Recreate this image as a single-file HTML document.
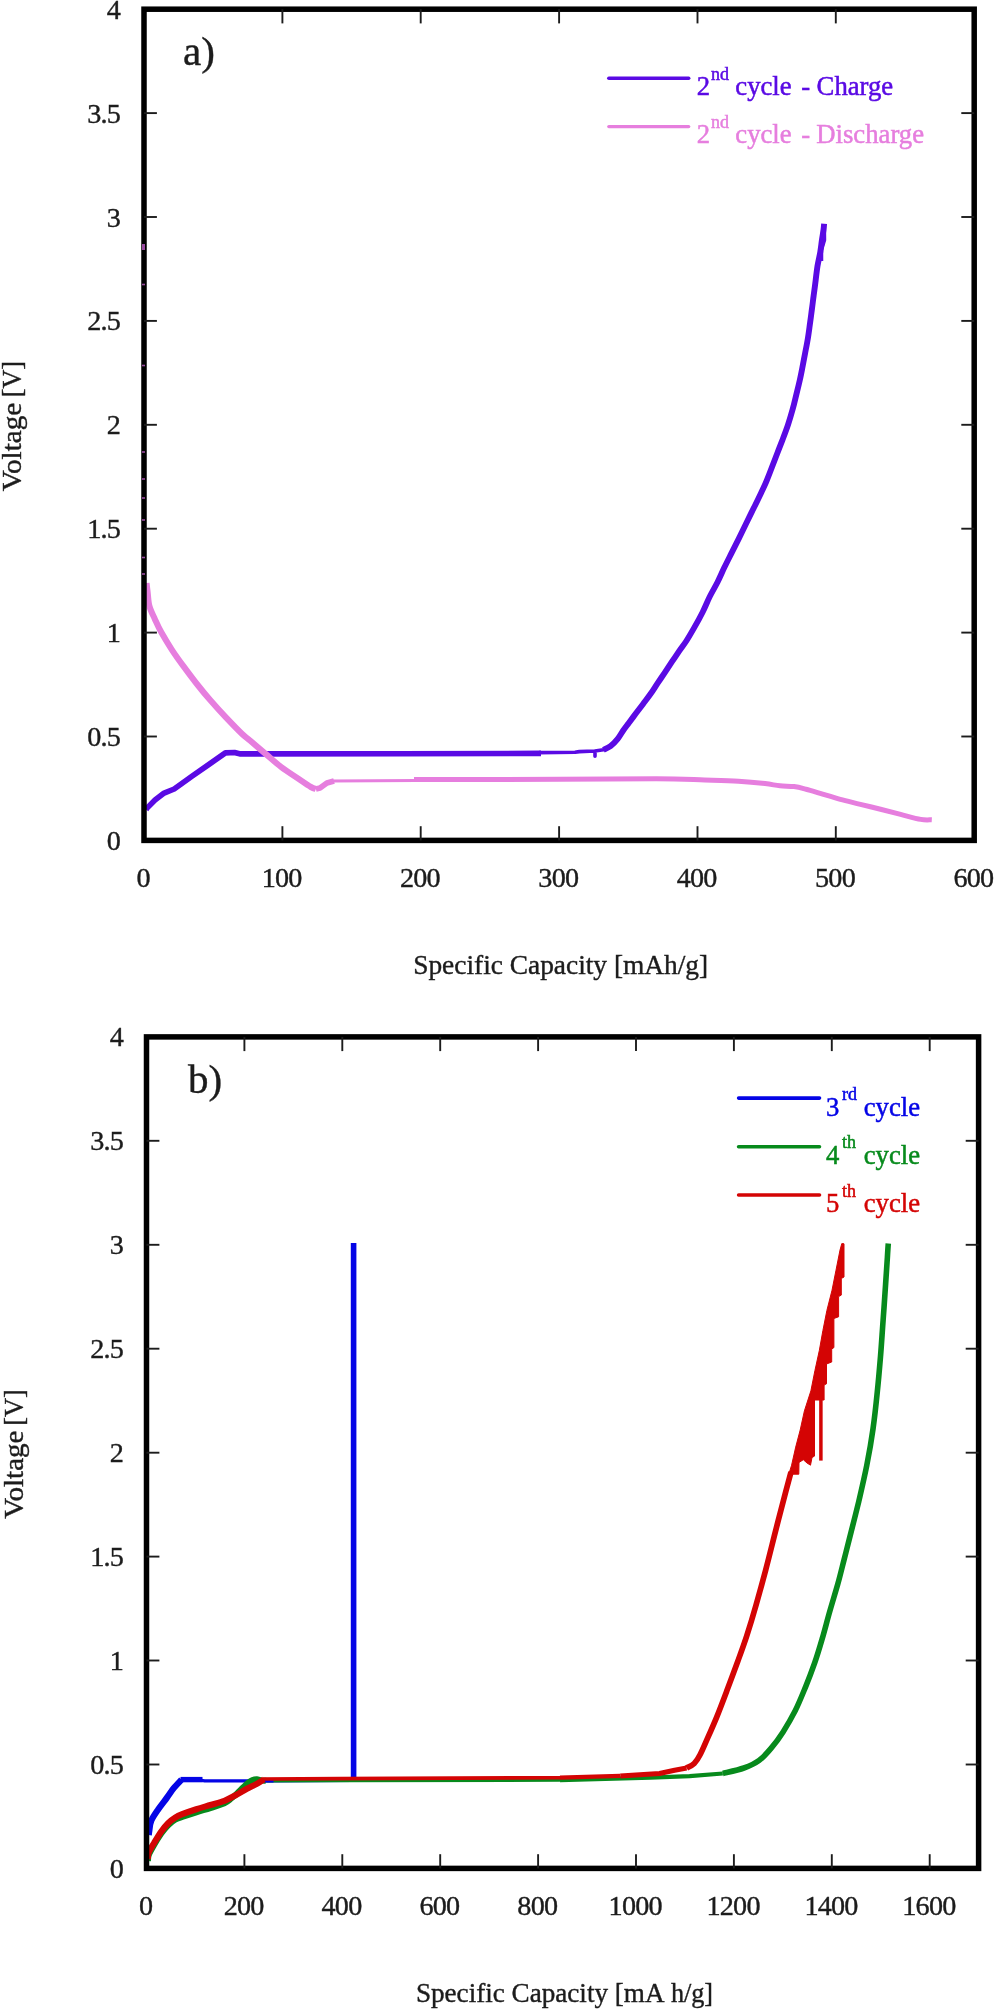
<!DOCTYPE html>
<html><head><meta charset="utf-8"><title>Voltage vs Specific Capacity</title>
<style>html,body{margin:0;padding:0;background:#fff}svg{display:block;filter:blur(0.55px)}text{font-family:"Liberation Serif", serif;}.w{stroke-width:0.3px}</style></head>
<body>
<svg width="995" height="2011" viewBox="0 0 995 2011">
<rect width="995" height="2011" fill="#fff"/>
<polyline points="146.0,809.5 147.0,808.1 155.0,800.0 164.1,793.1 174.2,789.0 192.3,776.0 208.3,764.9 225.4,752.9 234.5,752.5 240.5,753.9 400.0,753.7 541.0,753.4" fill="none" stroke="#5a0ae4" stroke-width="5.6" stroke-linejoin="round"/>
<polyline points="539.0,752.6 575.0,752.3 579.3,751.6 595.0,751.0 595.0,756.2 595.0,751.0 603.4,749.8 609.0,747.8" fill="none" stroke="#5a0ae4" stroke-width="3.6" stroke-linejoin="round"/>
<path d="M603.4,749.8 C604.6,749.2 608.1,748.0 610.5,746.2 C612.9,744.4 615.6,741.5 617.7,738.9 C619.8,736.3 621.4,733.1 623.2,730.5 C625.0,727.9 626.5,726.0 628.6,723.2 C630.7,720.4 633.4,716.8 635.8,713.6 C638.2,710.4 640.7,707.1 643.1,703.9 C645.5,700.7 647.9,697.7 650.3,694.3 C652.7,690.9 655.1,687.0 657.5,683.4 C659.9,679.8 662.4,676.2 664.8,672.6 C667.2,669.0 669.6,665.3 672.0,661.7 C674.4,658.1 677.0,654.3 679.3,650.9 C681.6,647.5 683.5,645.3 686.0,641.5 C688.5,637.7 691.3,632.8 694.1,627.9 C696.9,623.0 700.0,617.4 702.6,612.2 C705.2,607.0 707.3,601.5 709.8,596.5 C712.3,591.5 715.2,586.8 717.6,582.0 C720.0,577.2 722.0,572.4 724.3,567.6 C726.6,562.8 729.1,557.9 731.5,553.1 C733.9,548.3 736.4,543.4 738.8,538.6 C741.2,533.8 743.8,528.5 745.9,524.1 C748.0,519.7 750.2,515.2 751.7,512.1 C753.2,509.0 753.3,508.9 754.9,505.7 C756.5,502.5 759.2,496.9 761.2,492.7 C763.2,488.5 764.9,485.0 766.7,480.6 C768.5,476.2 770.5,471.0 772.2,466.5 C774.0,462.0 775.5,457.9 777.2,453.5 C778.9,449.1 780.7,444.6 782.3,440.4 C783.9,436.2 785.4,432.3 786.8,428.3 C788.2,424.3 789.4,420.3 790.6,416.3 C791.8,412.3 793.0,408.2 794.0,404.2 C795.0,400.2 795.9,396.2 796.9,392.2 C797.9,388.2 798.9,384.1 799.8,380.1 C800.7,376.2 801.3,373.1 802.2,368.5 C803.1,363.9 804.2,357.8 805.2,352.7 C806.2,347.6 807.2,342.7 808.0,337.6 C808.8,332.5 809.5,326.9 810.2,322.0 C810.9,317.1 811.4,312.8 812.0,308.5 C812.6,304.2 813.0,300.4 813.6,296.0 C814.2,291.6 814.8,287.4 815.4,282.4 C816.0,277.4 816.7,271.1 817.5,266.0 C818.3,260.9 819.6,256.2 820.3,252.0 C821.0,247.8 821.3,244.7 821.8,241.0 C822.3,237.3 823.1,232.9 823.5,230.0 C823.9,227.1 824.0,224.8 824.1,223.8" fill="none" stroke="#5a0ae4" stroke-width="5.9" stroke-linejoin="round"/>
<polyline points="824.3,224.0 824.5,240.0 821.5,250.0 821.5,261.0" fill="none" stroke="#5a0ae4" stroke-width="3.5" stroke-linejoin="round"/>
<path d="M146.5,583.0 C146.7,584.5 147.1,588.2 147.6,592.1 C148.1,596.0 148.2,601.6 149.4,606.1 C150.6,610.6 152.9,614.8 154.9,619.2 C156.9,623.6 158.5,627.3 161.3,632.3 C164.1,637.3 167.9,643.6 171.6,649.3 C175.3,655.0 179.4,660.7 183.6,666.4 C187.8,672.1 192.0,677.8 196.5,683.5 C201.0,689.2 205.8,695.1 210.6,700.6 C215.4,706.1 220.0,711.2 225.2,716.7 C230.4,722.2 237.7,729.8 241.9,733.8 C246.1,737.8 246.4,737.4 250.3,740.8 C254.2,744.1 260.5,749.5 265.6,753.9 C270.7,758.2 275.5,762.7 281.0,766.9 C286.5,771.1 293.8,775.6 298.8,779.0 C303.8,782.4 308.0,785.3 310.9,787.0 C313.8,788.7 315.1,788.7 315.9,789.0" fill="none" stroke="#e67ede" stroke-width="6.1" stroke-linejoin="round"/>
<polyline points="315.9,789.0 320.0,788.0 326.9,783.0 334.0,781.0" fill="none" stroke="#e67ede" stroke-width="5.8" stroke-linejoin="round"/>
<polyline points="332.0,780.9 416.0,780.6" fill="none" stroke="#e67ede" stroke-width="3" stroke-linejoin="round"/>
<path d="M414.0,779.6 C438.3,779.5 519.6,779.4 560.0,779.3 C600.4,779.2 632.4,778.7 656.5,778.8 C680.6,778.9 691.0,779.6 704.7,780.0 C718.4,780.4 728.5,780.6 738.5,781.2 C748.5,781.8 758.1,782.8 765.0,783.6 C771.9,784.4 775.2,785.3 780.0,785.8 C784.8,786.3 789.6,786.0 794.0,786.6 C798.4,787.2 801.7,788.1 806.1,789.2 C810.5,790.3 814.5,791.6 820.2,793.3 C825.9,795.0 833.6,797.5 840.3,799.3 C847.0,801.1 853.7,802.6 860.4,804.3 C867.1,806.0 873.8,807.6 880.5,809.3 C887.2,811.0 893.9,812.7 900.6,814.4 C907.3,816.1 915.5,818.5 920.7,819.4 C925.9,820.3 929.9,819.7 931.8,819.8" fill="none" stroke="#e67ede" stroke-width="5" stroke-linejoin="round"/>
<rect x="144.0" y="9.2" width="830.2" height="831.2" fill="none" stroke="#000" stroke-width="5.5"/>
<g stroke="#1c1c1c" stroke-width="1.9"><line x1="282.4" y1="840.4" x2="282.4" y2="826.2"/><line x1="282.4" y1="9.2" x2="282.4" y2="23.4"/><line x1="420.7" y1="840.4" x2="420.7" y2="826.2"/><line x1="420.7" y1="9.2" x2="420.7" y2="23.4"/><line x1="559.1" y1="840.4" x2="559.1" y2="826.2"/><line x1="559.1" y1="9.2" x2="559.1" y2="23.4"/><line x1="697.5" y1="840.4" x2="697.5" y2="826.2"/><line x1="697.5" y1="9.2" x2="697.5" y2="23.4"/><line x1="835.8" y1="840.4" x2="835.8" y2="826.2"/><line x1="835.8" y1="9.2" x2="835.8" y2="23.4"/><line x1="144.0" y1="736.5" x2="156.9" y2="736.5"/><line x1="974.2" y1="736.5" x2="961.3" y2="736.5"/><line x1="144.0" y1="632.6" x2="156.9" y2="632.6"/><line x1="974.2" y1="632.6" x2="961.3" y2="632.6"/><line x1="144.0" y1="528.7" x2="156.9" y2="528.7"/><line x1="974.2" y1="528.7" x2="961.3" y2="528.7"/><line x1="144.0" y1="424.8" x2="156.9" y2="424.8"/><line x1="974.2" y1="424.8" x2="961.3" y2="424.8"/><line x1="144.0" y1="320.9" x2="156.9" y2="320.9"/><line x1="974.2" y1="320.9" x2="961.3" y2="320.9"/><line x1="144.0" y1="217.0" x2="156.9" y2="217.0"/><line x1="974.2" y1="217.0" x2="961.3" y2="217.0"/><line x1="144.0" y1="113.1" x2="156.9" y2="113.1"/><line x1="974.2" y1="113.1" x2="961.3" y2="113.1"/></g>
<g font-size="28.2" letter-spacing="-0.8" fill="#1c1c1c" stroke="#1c1c1c" stroke-width="0.4"><text x="120.1" y="849.9" text-anchor="end">0</text><text x="120.1" y="746.0" text-anchor="end">0.5</text><text x="120.1" y="642.1" text-anchor="end">1</text><text x="120.1" y="538.2" text-anchor="end">1.5</text><text x="120.1" y="434.3" text-anchor="end">2</text><text x="120.1" y="330.4" text-anchor="end">2.5</text><text x="120.1" y="226.5" text-anchor="end">3</text><text x="120.1" y="122.6" text-anchor="end">3.5</text><text x="120.1" y="18.7" text-anchor="end">4</text><text x="143.2" y="886.9" text-anchor="middle">0</text><text x="281.6" y="886.9" text-anchor="middle">100</text><text x="419.9" y="886.9" text-anchor="middle">200</text><text x="558.3" y="886.9" text-anchor="middle">300</text><text x="696.7" y="886.9" text-anchor="middle">400</text><text x="835.0" y="886.9" text-anchor="middle">500</text><text x="973.4" y="886.9" text-anchor="middle">600</text></g>
<rect x="142" y="244.0" width="3" height="6" fill="#9a4aa0"/>
<rect x="142" y="283.7" width="3" height="1.6" fill="#9a4aa0"/>
<rect x="142" y="364.7" width="3" height="1.6" fill="#9a4aa0"/>
<rect x="142" y="451.2" width="3" height="1.6" fill="#9a4aa0"/>
<rect x="142" y="478.2" width="3" height="1.6" fill="#9a4aa0"/>
<rect x="142" y="497.2" width="3" height="1.6" fill="#9a4aa0"/>
<rect x="142" y="519.2" width="3" height="1.6" fill="#9a4aa0"/>
<rect x="142" y="556.7" width="3" height="1.6" fill="#9a4aa0"/>
<rect x="142" y="573.2" width="3" height="1.6" fill="#9a4aa0"/>
<text id="xt_a" x="413.2" y="973.9" font-size="27.6" fill="#1c1c1c" stroke="#1c1c1c" stroke-width="0.4" textLength="295" lengthAdjust="spacingAndGlyphs">Specific Capacity [mAh/g]</text>
<text id="yt_a" transform="translate(20.6,491.2) rotate(-90)" font-size="27.6" fill="#1c1c1c" stroke="#1c1c1c" stroke-width="0.4"><tspan textLength="88.4" lengthAdjust="spacingAndGlyphs">Voltage</tspan><tspan x="93.9" textLength="36.4" lengthAdjust="spacingAndGlyphs">[V]</tspan></text>
<text id="la" x="183" y="65" font-size="41" fill="#1c1c1c" stroke="#1c1c1c" stroke-width="0.4">a)</text>
<line x1="608.8" y1="78.2" x2="688.7" y2="78.2" stroke="#5a0ae4" stroke-width="3.5" stroke-linecap="round"/>
<line x1="608.8" y1="126.6" x2="688.7" y2="126.6" stroke="#e67ede" stroke-width="3.3" stroke-linecap="round"/>
<text id="lg_a1" x="696.7" y="95.3" font-size="26.7" fill="#5a0ae4" stroke="#5a0ae4" stroke-width="0.5">2<tspan font-size="18" x="711" dy="-15.4">nd</tspan><tspan x="735.3" dy="15.4">cycle</tspan><tspan x="801.2">-</tspan><tspan x="816.6">Charge</tspan></text>
<text id="lg_a2" x="696.7" y="143.4" font-size="26.7" fill="#e67ede" stroke="#e67ede" stroke-width="0.5">2<tspan font-size="18" x="711" dy="-15.4">nd</tspan><tspan x="735.3" dy="15.4">cycle</tspan><tspan x="801.2">-</tspan><tspan x="816.3">Discharge</tspan></text>
<path d="M148.7,1835.0 C148.8,1834.2 148.9,1832.8 149.3,1830.4 C149.7,1828.0 149.8,1824.0 151.3,1820.5 C152.8,1817.0 155.7,1813.0 158.3,1809.2 C160.9,1805.5 164.1,1801.5 166.7,1798.0 C169.3,1794.5 171.3,1791.1 173.8,1788.1 C176.3,1785.0 180.2,1781.1 181.5,1779.7" fill="none" stroke="#0404e6" stroke-width="6.3" stroke-linejoin="round"/>
<polyline points="180.5,1779.6 202.5,1779.6" fill="none" stroke="#0404e6" stroke-width="5.4" stroke-linejoin="round"/>
<polyline points="201.0,1780.2 204.7,1780.9 272.7,1780.9 353.6,1780.5" fill="none" stroke="#0404e6" stroke-width="3.2" stroke-linejoin="round"/>
<line x1="353.6" y1="1243" x2="353.6" y2="1781" stroke="#0404e6" stroke-width="5.6"/>
<path d="M148.0,1861.0 C148.1,1860.0 147.8,1857.7 148.8,1855.0 C149.8,1852.3 152.1,1848.5 154.1,1845.0 C156.1,1841.5 158.8,1837.1 161.1,1833.8 C163.4,1830.5 165.8,1827.6 168.1,1825.3 C170.4,1823.0 172.8,1821.1 175.2,1819.7 C177.5,1818.3 178.7,1818.2 182.2,1817.0 C185.7,1815.8 191.6,1813.8 196.3,1812.3 C201.0,1810.8 205.7,1809.6 210.4,1808.1 C215.1,1806.6 221.0,1804.8 224.4,1803.2 C227.8,1801.6 228.9,1800.3 231.0,1798.7 C233.1,1797.1 235.2,1795.2 237.1,1793.4 C239.0,1791.6 240.8,1789.6 242.7,1787.8 C244.6,1786.0 246.7,1783.9 248.3,1782.6 C250.0,1781.3 251.2,1780.6 252.6,1780.0 C254.0,1779.4 255.4,1779.1 256.8,1779.2 C258.2,1779.3 259.5,1780.1 261.0,1780.4 C262.5,1780.7 265.2,1780.7 266.0,1780.8" fill="none" stroke="#078a1c" stroke-width="6" stroke-linejoin="round"/>
<polyline points="265.0,1780.8 340.0,1780.5 560.0,1780.1" fill="none" stroke="#078a1c" stroke-width="3.4" stroke-linejoin="round"/>
<polyline points="560.0,1780.1 650.4,1777.7 689.6,1776.2 722.8,1773.5" fill="none" stroke="#078a1c" stroke-width="4.2" stroke-linejoin="round"/>
<path d="M722.8,1773.5 C726.3,1772.6 737.9,1770.2 743.9,1768.0 C749.9,1765.8 754.5,1763.8 759.0,1760.5 C763.5,1757.2 767.0,1753.2 771.0,1748.4 C775.0,1743.6 779.1,1738.2 783.1,1731.9 C787.1,1725.6 791.4,1718.3 795.2,1710.8 C799.0,1703.2 802.4,1694.6 805.7,1686.6 C809.0,1678.5 812.0,1670.5 814.8,1662.5 C817.6,1654.5 819.8,1646.9 822.3,1638.4 C824.8,1629.9 827.2,1620.3 829.8,1611.3 C832.4,1602.2 835.4,1592.6 837.8,1584.1 C840.2,1575.5 842.0,1567.8 844.0,1560.0 C846.0,1552.2 847.2,1547.3 849.7,1537.5 C852.2,1527.7 855.9,1513.3 858.8,1501.3 C861.6,1489.2 864.4,1477.2 866.8,1465.2 C869.2,1453.2 871.3,1441.1 873.0,1429.0 C874.7,1416.9 876.0,1404.9 877.2,1392.8 C878.5,1380.7 879.5,1368.7 880.5,1356.6 C881.5,1344.5 882.2,1332.5 883.1,1320.4 C884.0,1308.4 884.9,1294.8 885.6,1284.3 C886.3,1273.8 887.0,1263.9 887.4,1257.1 C887.8,1250.3 888.1,1245.8 888.3,1243.6" fill="none" stroke="#078a1c" stroke-width="5.6" stroke-linejoin="round"/>
<polyline points="262.0,1781.0 273.5,1781.0" fill="none" stroke="#0404e6" stroke-width="3.0" stroke-linejoin="round"/>
<path d="M147.8,1859.0 C147.9,1858.0 147.6,1855.6 148.6,1852.9 C149.6,1850.2 152.0,1846.5 154.1,1843.0 C156.2,1839.5 158.8,1835.1 161.1,1831.8 C163.4,1828.5 165.8,1825.6 168.1,1823.3 C170.4,1821.0 172.8,1819.2 175.2,1817.7 C177.5,1816.2 178.7,1815.6 182.2,1814.2 C185.7,1812.8 191.6,1810.7 196.3,1809.2 C201.0,1807.7 205.7,1806.4 210.4,1805.0 C215.1,1803.6 220.2,1802.4 224.4,1800.8 C228.6,1799.2 231.9,1797.2 235.7,1795.2 C239.4,1793.2 243.4,1790.7 246.9,1788.8 C250.4,1786.9 254.0,1785.5 256.8,1783.9 C259.6,1782.3 262.6,1780.2 263.8,1779.4" fill="none" stroke="#d40404" stroke-width="6.2" stroke-linejoin="round"/>
<polyline points="262.5,1779.0 340.0,1778.6 560.0,1777.7" fill="none" stroke="#d40404" stroke-width="3.6" stroke-linejoin="round"/>
<polyline points="560.0,1777.7 620.3,1775.9" fill="none" stroke="#d40404" stroke-width="4.3" stroke-linejoin="round"/>
<polyline points="620.3,1775.9 659.5,1773.5 674.6,1770.2 686.6,1768.0" fill="none" stroke="#d40404" stroke-width="5.0" stroke-linejoin="round"/>
<path d="M686.6,1768.0 C687.9,1767.2 691.9,1765.8 694.2,1763.5 C696.5,1761.2 698.0,1758.8 700.2,1754.5 C702.5,1750.2 704.9,1744.2 707.7,1737.9 C710.5,1731.6 713.5,1724.8 716.8,1716.8 C720.1,1708.8 723.8,1698.9 727.3,1689.6 C730.8,1680.3 734.6,1670.0 737.9,1661.0 C741.2,1652.0 743.9,1644.7 746.9,1635.4 C749.9,1626.1 752.9,1616.1 756.0,1605.2 C759.1,1594.3 762.3,1582.7 765.7,1569.9 C769.1,1557.1 772.9,1541.4 776.2,1528.5 C779.5,1515.6 783.1,1501.7 785.6,1492.3 C788.1,1482.9 790.1,1475.4 791.0,1472.0" fill="none" stroke="#d40404" stroke-width="5.7" stroke-linejoin="round"/>
<polygon points="788.8,1474.2 791.6,1465.2 795.7,1447.1 800.2,1430.0 804.4,1410.9 810.9,1390.8 814.9,1370.7 819.3,1350.6 822.9,1330.5 826.9,1310.4 832.0,1290.3 836.0,1270.2 840.0,1250.1 841.8,1243.6 844.0,1243.8 844.0,1277.0 841.3,1278.5 841.3,1295.1 838.6,1296.6 838.6,1316.8 833.9,1318.5 833.9,1347.6 831.7,1349.0 831.7,1362.0 826.5,1364.0 826.5,1383.8 824.1,1385.0 824.1,1400.0 814.5,1400.0 814.5,1456.1 812.0,1457.5 810.5,1465.2 807.0,1463.0 803.3,1459.7 799.0,1462.5 798.8,1474.2 794.0,1474.2" fill="#d40404" stroke="#d40404" stroke-width="1" stroke-linejoin="round"/>
<line x1="820.9" y1="1385" x2="820.9" y2="1460.6" stroke="#d40404" stroke-width="3.5"/>
<rect x="146.5" y="1036.9" width="832.1" height="831.5" fill="none" stroke="#000" stroke-width="5.5"/>
<g stroke="#1c1c1c" stroke-width="1.9"><line x1="244.4" y1="1868.4" x2="244.4" y2="1854.2"/><line x1="244.4" y1="1036.9" x2="244.4" y2="1051.1"/><line x1="342.3" y1="1868.4" x2="342.3" y2="1854.2"/><line x1="342.3" y1="1036.9" x2="342.3" y2="1051.1"/><line x1="440.2" y1="1868.4" x2="440.2" y2="1854.2"/><line x1="440.2" y1="1036.9" x2="440.2" y2="1051.1"/><line x1="538.1" y1="1868.4" x2="538.1" y2="1854.2"/><line x1="538.1" y1="1036.9" x2="538.1" y2="1051.1"/><line x1="636.0" y1="1868.4" x2="636.0" y2="1854.2"/><line x1="636.0" y1="1036.9" x2="636.0" y2="1051.1"/><line x1="733.9" y1="1868.4" x2="733.9" y2="1854.2"/><line x1="733.9" y1="1036.9" x2="733.9" y2="1051.1"/><line x1="831.8" y1="1868.4" x2="831.8" y2="1854.2"/><line x1="831.8" y1="1036.9" x2="831.8" y2="1051.1"/><line x1="929.7" y1="1868.4" x2="929.7" y2="1854.2"/><line x1="929.7" y1="1036.9" x2="929.7" y2="1051.1"/><line x1="146.5" y1="1764.5" x2="159.4" y2="1764.5"/><line x1="978.6" y1="1764.5" x2="965.7" y2="1764.5"/><line x1="146.5" y1="1660.5" x2="159.4" y2="1660.5"/><line x1="978.6" y1="1660.5" x2="965.7" y2="1660.5"/><line x1="146.5" y1="1556.6" x2="159.4" y2="1556.6"/><line x1="978.6" y1="1556.6" x2="965.7" y2="1556.6"/><line x1="146.5" y1="1452.7" x2="159.4" y2="1452.7"/><line x1="978.6" y1="1452.7" x2="965.7" y2="1452.7"/><line x1="146.5" y1="1348.7" x2="159.4" y2="1348.7"/><line x1="978.6" y1="1348.7" x2="965.7" y2="1348.7"/><line x1="146.5" y1="1244.8" x2="159.4" y2="1244.8"/><line x1="978.6" y1="1244.8" x2="965.7" y2="1244.8"/><line x1="146.5" y1="1140.8" x2="159.4" y2="1140.8"/><line x1="978.6" y1="1140.8" x2="965.7" y2="1140.8"/></g>
<g font-size="28.2" letter-spacing="-0.8" fill="#1c1c1c" stroke="#1c1c1c" stroke-width="0.4"><text x="123.1" y="1877.9" text-anchor="end">0</text><text x="123.1" y="1774.0" text-anchor="end">0.5</text><text x="123.1" y="1670.0" text-anchor="end">1</text><text x="123.1" y="1566.1" text-anchor="end">1.5</text><text x="123.1" y="1462.2" text-anchor="end">2</text><text x="123.1" y="1358.2" text-anchor="end">2.5</text><text x="123.1" y="1254.3" text-anchor="end">3</text><text x="123.1" y="1150.3" text-anchor="end">3.5</text><text x="123.1" y="1046.4" text-anchor="end">4</text><text x="145.7" y="1914.7" text-anchor="middle">0</text><text x="243.6" y="1914.7" text-anchor="middle">200</text><text x="341.5" y="1914.7" text-anchor="middle">400</text><text x="439.4" y="1914.7" text-anchor="middle">600</text><text x="537.3" y="1914.7" text-anchor="middle">800</text><text x="635.2" y="1914.7" text-anchor="middle">1000</text><text x="733.1" y="1914.7" text-anchor="middle">1200</text><text x="831.0" y="1914.7" text-anchor="middle">1400</text><text x="928.9" y="1914.7" text-anchor="middle">1600</text></g>
<text id="xt_b" x="415.9" y="2002" font-size="27.6" fill="#1c1c1c" stroke="#1c1c1c" stroke-width="0.4" textLength="248.6" lengthAdjust="spacingAndGlyphs">Specific Capacity [mA</text>
<text id="xt_b2" x="670.9" y="2002" font-size="27.6" fill="#1c1c1c" stroke="#1c1c1c" stroke-width="0.4" textLength="42.2" lengthAdjust="spacingAndGlyphs">h/g]</text>
<text id="yt_b" transform="translate(23.1,1518.7) rotate(-90)" font-size="27.6" fill="#1c1c1c" stroke="#1c1c1c" stroke-width="0.4"><tspan textLength="88.2" lengthAdjust="spacingAndGlyphs">Voltage</tspan><tspan x="93.0" textLength="36.6" lengthAdjust="spacingAndGlyphs">[V]</tspan></text>
<text id="lb" x="188" y="1092.5" font-size="41" fill="#1c1c1c" stroke="#1c1c1c" stroke-width="0.4">b)</text>
<line x1="738.6" y1="1098.1" x2="819.5" y2="1098.1" stroke="#0404e6" stroke-width="3.6" stroke-linecap="round"/>
<text id="lg_b1" x="826.1" y="1115.8" font-size="26.7" fill="#0404e6" stroke="#0404e6" stroke-width="0.5">3<tspan font-size="18" x="842" dy="-15.6">rd</tspan><tspan x="863.7" dy="15.6">cycle</tspan></text>
<line x1="738.6" y1="1146.8" x2="819.5" y2="1146.8" stroke="#078a1c" stroke-width="3.6" stroke-linecap="round"/>
<text id="lg_b2" x="826.1" y="1163.6" font-size="26.7" fill="#078a1c" stroke="#078a1c" stroke-width="0.5">4<tspan font-size="18" x="842" dy="-15.6">th</tspan><tspan x="863.7" dy="15.6">cycle</tspan></text>
<line x1="738.6" y1="1195.0" x2="819.5" y2="1195.0" stroke="#d40404" stroke-width="3.6" stroke-linecap="round"/>
<text id="lg_b3" x="826.1" y="1212.3" font-size="26.7" fill="#d40404" stroke="#d40404" stroke-width="0.5">5<tspan font-size="18" x="842" dy="-15.6">th</tspan><tspan x="863.7" dy="15.6">cycle</tspan></text>
</svg>
</body></html>
